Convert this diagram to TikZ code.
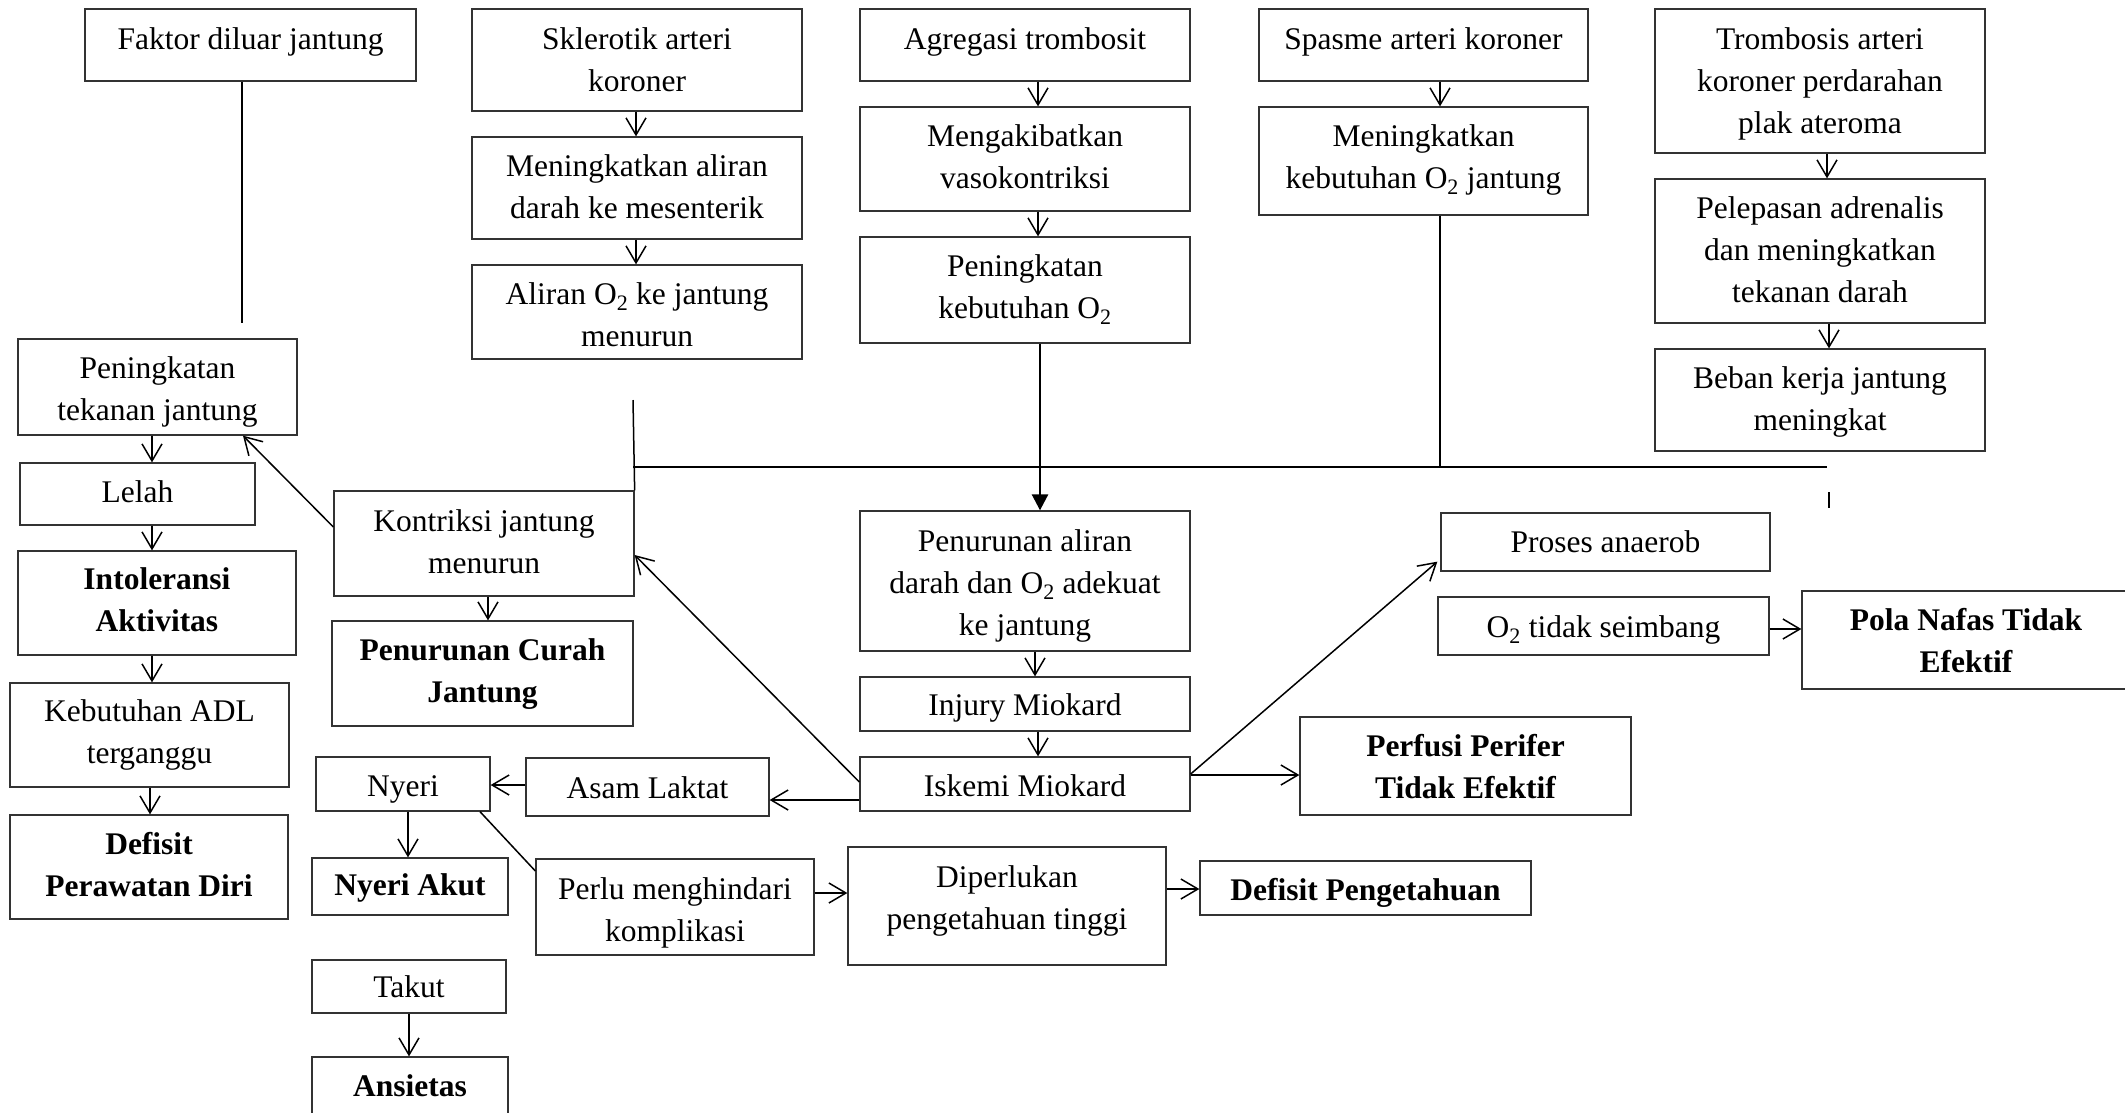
\documentclass[tikz,border=0pt]{standalone}
\usepackage{fontspec}
\setmainfont{Liberation Serif}
\usetikzlibrary{arrows.meta,calc}
\newcommand\boxtext[2][0pt]{\raisebox{-#1}[\height][\depth]{\begin{tabular}{@{}c@{}}#2\end{tabular}}}
\begin{document}
\begin{tikzpicture}[x=1pt,y=-1pt,
  box/.style={draw=black!80, line width=1.3pt, inner sep=0pt, align=center, rectangle,
    font=\fontsize{31.5}{42}\selectfont},
  bbox/.style={box, font=\fontsize{31.5}{42}\selectfont\bfseries},
  ln/.style={line width=1.5pt},
  thk/.style={line width=2.6pt},
  arr/.style={ln, -{Straight Barb[length=17pt,width=20pt]}},
  farr/.style={thk, -{Triangle[length=16pt,width=16pt]}}
]
\useasboundingbox (0,0) rectangle (2125,1112);
\fill[white] (0,0) rectangle (2125,1112);
\clip (0,0) rectangle (2125,1112);

% top row
\node[box,minimum width=331pt,minimum height=72pt] (faktor) at (250.5,45) {\boxtext[-3.5pt]{Faktor diluar jantung}};
\node[box,minimum width=330pt,minimum height=102pt] (sklerotik) at (637,60) {\boxtext[2pt]{Sklerotik arteri\\koroner}};
\node[box,minimum width=330pt,minimum height=102pt] (menaliran) at (637,188) {\boxtext[1.3pt]{Meningkatkan aliran\\darah ke mesenterik}};
\node[box,minimum width=330pt,minimum height=94pt] (aliran) at (637,312) {\boxtext[5pt]{Aliran O\textsubscript{2} ke jantung\\menurun}};
\node[box,minimum width=330pt,minimum height=72pt] (agregasi) at (1025,45) {\boxtext[-4pt]{Agregasi trombosit}};
\node[box,minimum width=330pt,minimum height=104pt] (mengakibatkan) at (1025,159) {\boxtext{Mengakibatkan\\vasokontriksi}};
\node[box,minimum width=330pt,minimum height=106pt] (pkebutuhan) at (1025,290) {\boxtext[-0.7pt]{Peningkatan\\kebutuhan O\textsubscript{2}}};
\node[box,minimum width=329pt,minimum height=72pt] (spasme) at (1423.5,45) {\boxtext[-4pt]{Spasme arteri koroner}};
\node[box,minimum width=329pt,minimum height=108pt] (menkebutuhan) at (1423.5,161) {\boxtext[-1.7pt]{Meningkatkan\\kebutuhan O\textsubscript{2} jantung}};
\node[box,minimum width=330pt,minimum height=144pt] (trombosis) at (1820,81) {\boxtext[2pt]{Trombosis arteri\\koroner perdarahan\\plak ateroma}};
\node[box,minimum width=330pt,minimum height=144pt] (pelepasan) at (1820,251) {\boxtext[1pt]{Pelepasan adrenalis\\dan meningkatkan\\tekanan darah}};
\node[box,minimum width=330pt,minimum height=102pt] (beban) at (1820,400) {\boxtext[1pt]{Beban kerja jantung\\meningkat}};

% left column
\node[box,minimum width=279pt,minimum height=96pt] (ptj) at (157.5,387) {\boxtext[3.6pt]{Peningkatan\\tekanan jantung}};
\node[box,minimum width=235pt,minimum height=62pt] (lelah) at (137.5,494) {\boxtext{Lelah}};
\node[bbox,minimum width=278pt,minimum height=104pt] (intoleransi) at (157,603) {\boxtext[-0.8pt]{Intoleransi\\Aktivitas}};
\node[box,minimum width=279pt,minimum height=104pt] (adl) at (149.5,735) {\boxtext[-0.6pt]{Kebutuhan ADL\\terganggu}};
\node[bbox,minimum width=278pt,minimum height=104pt] (defisitpd) at (149,867) {\boxtext[-0.4pt]{Defisit\\Perawatan Diri}};

% second column
\node[box,minimum width=300pt,minimum height=105pt] (kontriksi) at (484,543.5) {\boxtext[0.7pt]{Kontriksi jantung\\menurun}};
\node[bbox,minimum width=301pt,minimum height=105pt] (pcurah) at (482.5,673.5) {\boxtext[-0.9pt]{Penurunan Curah\\Jantung}};
\node[box,minimum width=174pt,minimum height=54pt] (nyeri) at (403,784) {\boxtext[4pt]{Nyeri}};
\node[box,minimum width=243pt,minimum height=58pt] (asam) at (647.5,787) {\boxtext[3pt]{Asam Laktat}};
\node[bbox,minimum width=196pt,minimum height=57pt] (nyeriakut) at (410,886.5) {\boxtext[1pt]{Nyeri Akut}};
\node[box,minimum width=278pt,minimum height=96pt] (perlu) at (675,907) {\boxtext[4.6pt]{Perlu menghindari\\komplikasi}};
\node[box,minimum width=194pt,minimum height=53pt] (takut) at (409,986.5) {\boxtext[3pt]{Takut}};
\node[bbox,minimum width=196pt,minimum height=57pt] (ansietas) at (410,1085.5) {\boxtext[2.7pt]{Ansietas}};

% middle
\node[box,minimum width=330pt,minimum height=140pt] (paliran) at (1025,581) {\boxtext[4.3pt]{Penurunan aliran\\darah dan O\textsubscript{2} adekuat\\ke jantung}};
\node[box,minimum width=330pt,minimum height=54pt] (injury) at (1025,704) {\boxtext[3.4pt]{Injury Miokard}};
\node[box,minimum width=330pt,minimum height=54pt] (iskemi) at (1025,784) {\boxtext[4pt]{Iskemi Miokard}};
\node[bbox,minimum width=331pt,minimum height=98pt] (perfusi) at (1465.5,766) {\boxtext[2.6pt]{Perfusi Perifer\\Tidak Efektif}};
\node[box,minimum width=318pt,minimum height=118pt] (diperlukan) at (1007,906) {\boxtext[-6.4pt]{Diperlukan\\pengetahuan tinggi}};
\node[bbox,minimum width=331pt,minimum height=54pt] (dpeng) at (1365.5,888) {\boxtext[3.6pt]{Defisit Pengetahuan}};

% right
\node[box,minimum width=329pt,minimum height=58pt] (proses) at (1605.5,542) {\boxtext[2pt]{Proses anaerob}};
\node[box,minimum width=331pt,minimum height=58pt] (otidak) at (1603.5,626) {\boxtext[2.6pt]{O\textsubscript{2} tidak seimbang}};
\node[bbox,minimum width=328pt,minimum height=98pt] (pola) at (1966,640) {\boxtext[2.6pt]{Pola Nafas Tidak\\Efektif}};

% structural lines
\coordinate (fend) at (242,323);
\coordinate (vtop) at (633,400);
\coordinate (hl) at (633,467);
\coordinate (hr) at (1827,467);
\coordinate (tick1) at (1829,492);
\coordinate (tick2) at (1829,508);
\draw[ln] (faktor.south -| fend) -- (fend);
\draw[ln] (vtop) -- (kontriksi.north east);
\draw[thk] (hl) -- (hr);
\draw[ln] (menkebutuhan.south -| 1440,0) -- (hl -| 1440,0);
\draw[farr] (pkebutuhan.south -| 1040,0) -- (paliran.north -| 1040,0);
\draw[ln] (tick1) -- (tick2);

% vertical arrows
\draw[arr] (sklerotik.south -| 636,0) -- (menaliran.north -| 636,0);
\draw[arr] (menaliran.south -| 636,0) -- (aliran.north -| 636,0);
\draw[arr] (agregasi.south -| 1038,0) -- (mengakibatkan.north -| 1038,0);
\draw[arr] (mengakibatkan.south -| 1038,0) -- (pkebutuhan.north -| 1038,0);
\draw[arr] (spasme.south -| 1440,0) -- (menkebutuhan.north -| 1440,0);
\draw[arr] (trombosis.south -| 1827,0) -- (pelepasan.north -| 1827,0);
\draw[arr] (pelepasan.south -| 1829,0) -- (beban.north -| 1829,0);
\draw[arr] (ptj.south -| 152,0) -- (lelah.north -| 152,0);
\draw[arr] (lelah.south -| 152,0) -- (intoleransi.north -| 152,0);
\draw[arr] (intoleransi.south -| 152,0) -- (adl.north -| 152,0);
\draw[arr] (adl.south -| 150,0) -- (defisitpd.north -| 150,0);
\draw[arr] (kontriksi.south -| 488,0) -- (pcurah.north -| 488,0);
\draw[arr] (paliran.south -| 1035,0) -- (injury.north -| 1035,0);
\draw[arr] (injury.south -| 1038,0) -- (iskemi.north -| 1038,0);
\draw[arr] (nyeri.south -| 408,0) -- (nyeriakut.north -| 408,0);
\draw[arr] (takut.south -| 409,0) -- (ansietas.north -| 409,0);

% other connectors
\draw[arr] (kontriksi.west |- 0,527) -- (ptj.south -| 243,0);
\draw[arr] (iskemi.west |- 0,782) -- (kontriksi.east |- 0,555);
\draw[arr] (iskemi.west |- 0,800) -- (asam.east |- 0,800);
\draw[arr] (asam.west |- 0,785) -- (nyeri.east |- 0,785);
\draw[ln] (nyeri.south -| 480,0) -- (perlu.west |- 0,871);
\draw[arr] (perlu.east |- 0,893) -- (diperlukan.west |- 0,893);
\draw[arr] (diperlukan.east |- 0,889) -- (dpeng.west |- 0,889);
\draw[arr] (iskemi.east |- 0,775) -- (perfusi.west |- 0,775);
\draw[arr] (iskemi.east |- 0,774) -- ($(proses.south west)+(-3,-10)$);
\draw[arr] (otidak.east |- 0,629) -- (pola.west |- 0,629);
\end{tikzpicture}
\end{document}
